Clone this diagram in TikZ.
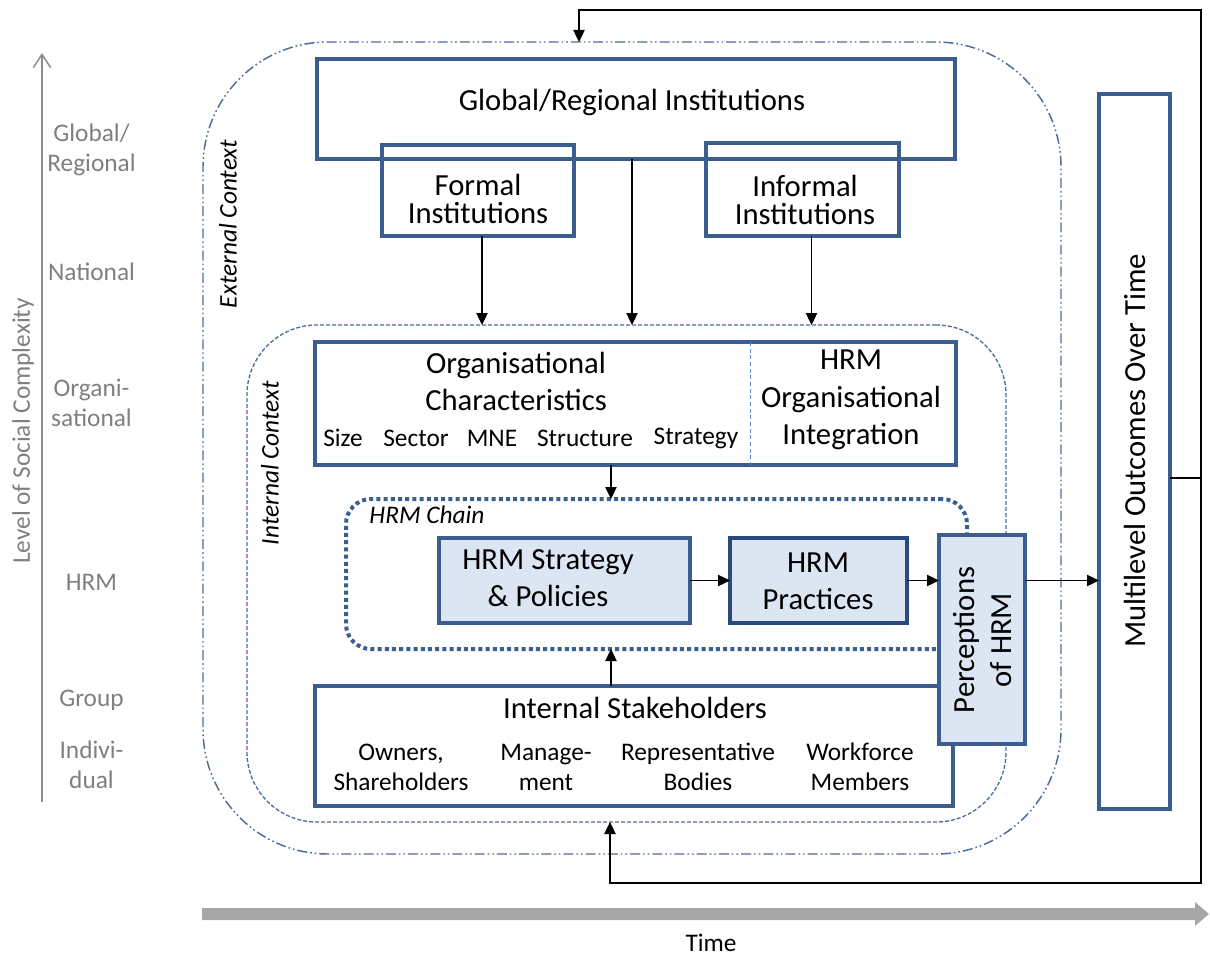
\documentclass[tikz,border=0pt]{standalone}
\usepackage{fontspec}
\setmainfont{Carlito}
\usetikzlibrary{arrows.meta,calc}
\definecolor{boxblue}{HTML}{3B5E8F}
\definecolor{darkblue}{HTML}{2A4A7C}
\definecolor{boxfill}{HTML}{DCE6F2}
\definecolor{ctxblue}{HTML}{4A6D9C}
\definecolor{lvlgray}{HTML}{7F7F7F}
\definecolor{axisgray}{HTML}{8C8C8C}
\definecolor{timegray}{HTML}{A6A6A6}
\definecolor{divblue}{HTML}{5B8CC8}
\begin{document}
\begin{tikzpicture}[x=0.75pt,y=-0.75pt,
  box/.style={draw=boxblue, line width=3pt, rectangle, inner sep=0pt, outer sep=0pt},
  fbox/.style={box, fill=boxfill},
  ctx/.style={draw=ctxblue, rectangle, inner sep=0pt, outer sep=0pt},
  big/.style={font=\fontsize{23}{27.75}\selectfont, align=center, inner sep=0pt},
  small/.style={font=\fontsize{19}{22.5}\selectfont, align=center, inner sep=0pt},
  lvl/.style={font=\fontsize{19}{22.5}\selectfont, align=center, inner sep=0pt, text=lvlgray},
  ital/.style={font=\fontsize{19}{22.5}\selectfont\itshape, inner sep=0pt},
  arr/.style={-{Triangle[length=9pt,width=8.5pt]}, line width=0.9pt, draw=black},
  plain/.style={line width=0.9pt, draw=black}
]
\useasboundingbox (0,0) rectangle (1210,956);

% containers
\node[ctx, line width=1.1pt, rounded corners=93.75pt,
      dash pattern=on 7.5pt off 2.25pt on 1.2pt off 2.25pt on 1.2pt off 2.25pt,
      minimum width=643.5pt, minimum height=609pt] (ext) at (632,448) {};
\node[ctx, line width=1pt, rounded corners=52.5pt, dash pattern=on 3pt off 1.5pt,
      minimum width=569.25pt, minimum height=372.75pt] (int) at (626.5,573.5) {};
\node[ctx, draw=boxblue, line width=3pt, rounded corners=18.75pt, dash pattern=on 3pt off 2.4pt,
      minimum width=465.75pt, minimum height=112.5pt] (chain) at (656.5,574) {};

% boxes
\node[box, minimum width=478.5pt, minimum height=75pt] (glob) at (636,109) {};
\node[box, minimum width=144pt, minimum height=68.25pt] (formal) at (478,190.5) {};
\node[box, minimum width=144.75pt, minimum height=69.75pt] (informal) at (802.5,189.5) {};
\node[box, fill=white, minimum width=480.75pt, minimum height=92.25pt] (org) at (635.5,403.5) {};
\draw[divblue, line width=0.8pt, dash pattern=on 3pt off 2pt] ([xshift=85.9pt]org.north) -- ([xshift=85.9pt]org.south);
\node[fbox, minimum width=188.25pt, minimum height=63.75pt] (strat) at (564.5,580.5) {};
\node[fbox, draw=darkblue, minimum width=132.75pt, minimum height=63.75pt] (prac) at (818.5,580.5) {};
\node[box, fill=white, minimum width=478.5pt, minimum height=90pt] (is) at (634,746) {};
\node[fbox, minimum width=64.5pt, minimum height=156.75pt] (perc) at (982,639.5) {};
\node[box, minimum width=53.25pt, minimum height=536.25pt] (multi) at (1134.5,451.5) {};

% box texts
\node[big] (globt) at (632,102) {Global/Regional Institutions};
\node[big, font=\fontsize{23}{21.5}\selectfont] (formalt) at (478,199) {Formal\\Institutions};
\node[big, font=\fontsize{23}{21.5}\selectfont] (informalt) at (805,200) {Informal\\Institutions};
\node[big] (orgt) at (516,381.5) {Organisational\\Characteristics};
\node[small] (o1) at (343,438) {Size};
\node[small] (o2) at (416,438) {Sector};
\node[small] (o3) at (492,438) {MNE};
\node[small] (o4) at (585,438) {Structure};
\node[small] (o5) at (696,438) {Strategy};
\node[big, font=\fontsize{23}{28}\selectfont] (hrmoi) at (851,400) {HRM\\Organisational\\Integration};
\node[big] (stratt) at (548,578.5) {HRM Strategy\\\& Policies};
\node[big] (pract) at (818,581.5) {HRM\\Practices};
\node[big, rotate=90] (perct) at (982,640) {Perceptions\\of HRM};
\node[big] (ist) at (635,708) {Internal Stakeholders};
\node[small] (is1) at (401,767) {Owners,\\Shareholders};
\node[small] (is2) at (546,767) {Manage-\\ment};
\node[small] (is3) at (698,767) {Representative\\Bodies};
\node[small] (is4) at (860,767) {Workforce\\Members};
\node[big, rotate=90] (multit) at (1134.5,451) {Multilevel Outcomes Over Time};

% context labels
\node[ital] (chaint) at (427,515) {HRM Chain};
\node[ital, rotate=90] (extt) at (228,224) {External Context};
\node[ital, rotate=90] (intt) at (270,463) {Internal Context};

% levels
\coordinate (axb) at (42,802);
\coordinate (axt) at (42,53);
\draw[axisgray, line width=1.1pt, -{Straight Barb[length=10pt,width=13pt]}] (axb) -- (axt);
\node[lvl, rotate=90] (axl) at (23,431) {Level of Social Complexity};
\node[lvl] (l1) at (91.5,150) {Global/\\Regional};
\node[lvl] (l2) at (91.5,272) {National};
\node[lvl] (l3) at (91.5,403) {Organi-\\sational};
\node[lvl] (l4) at (91.5,582) {HRM};
\node[lvl] (l5) at (91.5,700) {Group};
\node[lvl] (l6) at (91.5,765) {Indivi-\\dual};

% time
\fill[timegray] (202,908) -- (1195,908) -- (1195,902) -- (1209,914) -- (1195,926) -- (1195,920) -- (202,920) -- cycle;
\node[small] (timet) at (711,943) {Time};

% connectors
\draw[arr] ([xshift=3pt]formal.south) -- ([xshift=3pt]formal.south |- int.north);
\draw[arr] ([xshift=-3pt]glob.south) -- ([xshift=-3pt]glob.south |- int.north);
\draw[arr] ([xshift=6.75pt]informal.south) -- ([xshift=6.75pt]informal.south |- int.north);
\draw[arr] ([xshift=-18.4pt]org.south) -- ([xshift=-18.4pt]org.south |- chain.north);
\draw[arr] ([xshift=-17.25pt]is.north) -- ([xshift=-17.25pt]is.north |- chain.south);
\draw[arr] (strat.east) -- (prac.west);
\draw[arr] (prac.east) -- (perc.west |- prac.east);
\draw[arr] (perc.east |- prac.east) -- (multi.west |- prac.east);

% feedback loop
\coordinate (fbmid) at (1201,478);
\coordinate (fbtop) at (1201,10);
\coordinate (fbbot) at (1201,883);
\coordinate (extin) at ([xshift=-39.75pt]ext.north);
\coordinate (intin) at ([xshift=-12.375pt]int.south);
\draw[plain] (multi.east |- fbmid) -- (fbmid);
\draw[arr] (fbmid) -- (fbtop) -- (fbtop -| extin) -- (extin);
\draw[arr] (fbmid) -- (fbbot) -- (fbbot -| intin) -- (intin);
\end{tikzpicture}
\end{document}
